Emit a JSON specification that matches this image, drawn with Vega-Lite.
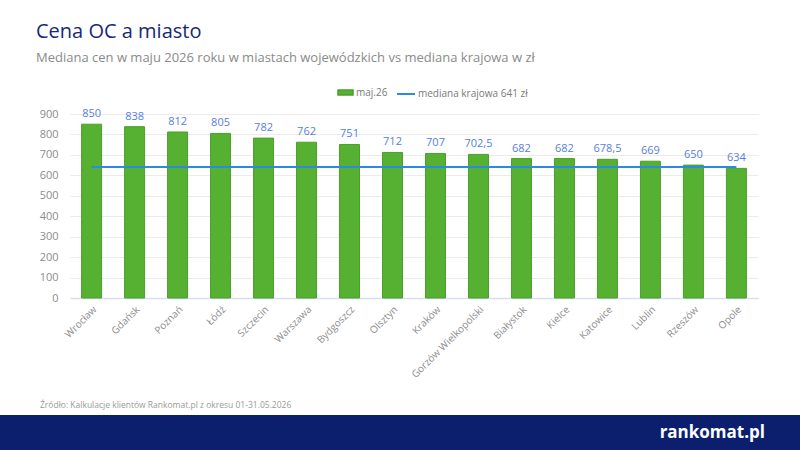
{
  "$schema": "https://vega.github.io/schema/vega-lite/v6.json",
  "padding": {"top": 22, "left": 0, "right": 0, "bottom": 0},
  "spacing": 20,
  "background": "white",
  "resolve": {
    "scale": {"color": "independent", "stroke": "independent"},
    "legend": {"color": "independent", "stroke": "independent"}
  },
  "vconcat": [
    {
      "width": 800,
      "height": 184,
      "title": {
        "text": "Cena OC a miasto",
        "subtitle": "Mediana cen w maju 2026 roku w miastach wojewódzkich vs mediana krajowa w zł",
        "anchor": "start",
        "frame": "group",
        "dx": 36,
        "font": "Open Sans",
        "fontSize": 20,
        "fontWeight": "normal",
        "color": "#16297a",
        "subtitleFont": "Open Sans",
        "subtitleFontSize": 13,
        "subtitleColor": "#8a8a8a",
        "subtitlePadding": 10,
        "offset": 19
      },
      "data": {
        "values": [
          {"miasto": "Wrocław", "cena": 850, "mediana": 641, "seria": "maj.26"},
          {"miasto": "Gdańsk", "cena": 838, "mediana": 641, "seria": "maj.26"},
          {"miasto": "Poznań", "cena": 812, "mediana": 641, "seria": "maj.26"},
          {"miasto": "Łódź", "cena": 805, "mediana": 641, "seria": "maj.26"},
          {"miasto": "Szczecin", "cena": 782, "mediana": 641, "seria": "maj.26"},
          {"miasto": "Warszawa", "cena": 762, "mediana": 641, "seria": "maj.26"},
          {"miasto": "Bydgoszcz", "cena": 751, "mediana": 641, "seria": "maj.26"},
          {"miasto": "Olsztyn", "cena": 712, "mediana": 641, "seria": "maj.26"},
          {"miasto": "Kraków", "cena": 707, "mediana": 641, "seria": "maj.26"},
          {"miasto": "Gorzów Wielkopolski", "cena": 702.5, "mediana": 641, "seria": "maj.26"},
          {"miasto": "Białystok", "cena": 682, "mediana": 641, "seria": "maj.26"},
          {"miasto": "Kielce", "cena": 682, "mediana": 641, "seria": "maj.26"},
          {"miasto": "Katowice", "cena": 678.5, "mediana": 641, "seria": "maj.26"},
          {"miasto": "Lublin", "cena": 669, "mediana": 641, "seria": "maj.26"},
          {"miasto": "Rzeszów", "cena": 650, "mediana": 641, "seria": "maj.26"},
          {"miasto": "Opole", "cena": 634, "mediana": 641, "seria": "maj.26"}
        ]
      },
      "encoding": {
        "x": {
          "field": "miasto",
          "type": "nominal",
          "sort": null,
          "title": null,
          "scale": {"range": [70, 758], "paddingInner": 0.535, "paddingOuter": 0.27},
          "axis": {
            "labelAngle": -45,
            "labelFontSize": 10,
            "labelColor": "#8c8c8c",
            "labelPadding": 6,
            "ticks": false,
            "domainColor": "#d6e0f2",
            "domainWidth": 1.5
          }
        },
        "y": {
          "field": "cena",
          "type": "quantitative",
          "title": null,
          "scale": {"domain": [0, 900]},
          "axis": {
            "values": [0, 100, 200, 300, 400, 500, 600, 700, 800, 900],
            "labelOverlap": false,
            "domain": false,
            "ticks": false,
            "offset": -70,
            "labelPadding": 12,
            "labelFontSize": 11,
            "labelColor": "#8c8c8c",
            "gridColor": "#ebebeb"
          }
        }
      },
      "layer": [
        {
          "mark": {"type": "bar", "stroke": "#4b9f2a", "strokeWidth": 1},
          "encoding": {
            "color": {
              "field": "seria",
              "type": "nominal",
              "scale": {"range": ["#56b031"]},
              "legend": {
                "title": null,
                "orient": "none",
                "legendX": 337,
                "legendY": -30,
                "padding": 0,
                "symbolType": "M-1,-0.33H1V0.33H-1Z",
                "symbolSize": 225,
                "labelFontSize": 10,
                "labelColor": "#7a7a7a",
                "labelOffset": 2
              }
            }
          }
        },
        {
          "mark": {"type": "text", "baseline": "bottom", "dy": -5, "fontSize": 11, "color": "#5680e0"},
          "encoding": {
            "text": {"field": "cena", "type": "quantitative", "format": ".1~f"}
          }
        },
        {
          "mark": {"type": "line", "strokeWidth": 2},
          "encoding": {
            "y": {"field": "mediana", "type": "quantitative"},
            "stroke": {
              "datum": "mediana krajowa 641 zł",
              "type": "nominal",
              "scale": {"range": ["#2a8be0"]},
              "legend": {
                "title": null,
                "orient": "none",
                "legendX": 396,
                "legendY": -30,
                "padding": 0,
                "symbolType": "stroke",
                "symbolSize": 324,
                "symbolStrokeWidth": 2,
                "labelFontSize": 10,
                "labelColor": "#7a7a7a",
                "labelOffset": 2
              }
            }
          }
        }
      ]
    },
    {
      "width": 800,
      "height": 35,
      "title": {
        "text": "Źródło: Kalkulacje klientów Rankomat.pl z okresu 01-31.05.2026",
        "anchor": "start",
        "frame": "group",
        "dx": 40,
        "font": "Open Sans",
        "fontSize": 8.5,
        "fontWeight": "normal",
        "color": "#9a9a9a",
        "offset": 6
      },
      "view": {"fill": "#0b1f6e", "stroke": null},
      "data": {"values": [{"logo": "rankomat.pl"}]},
      "mark": {
        "type": "text",
        "x": "width",
        "align": "right",
        "dx": -35,
        "font": "Open Sans",
        "fontSize": 17,
        "fontWeight": "bold",
        "color": "white"
      },
      "encoding": {"text": {"field": "logo"}}
    }
  ],
  "config": {
    "font": "Open Sans",
    "view": {"stroke": null},
    "locale": {
      "number": {"decimal": ",", "thousands": " ", "grouping": [3], "currency": ["", " zł"]}
    }
  }
}
